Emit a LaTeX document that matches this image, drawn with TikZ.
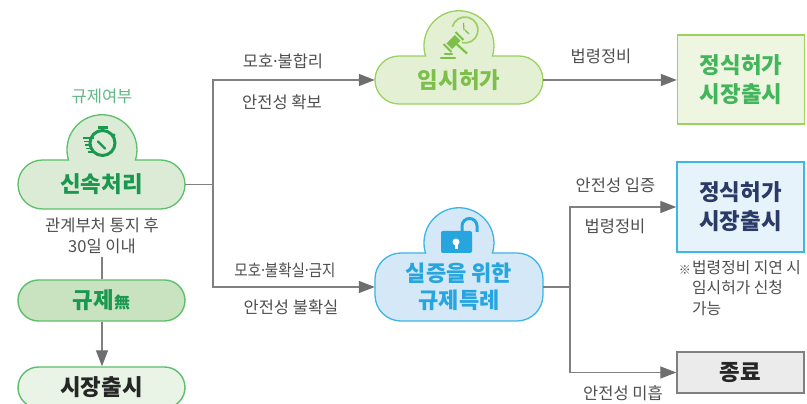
\documentclass[tikz,border=0pt]{standalone}
\usepackage{fontspec}
\setmainfont{Noto Sans CJK KR}
\usetikzlibrary{arrows.meta}
\definecolor{linegray}{HTML}{808080}
\definecolor{headgray}{HTML}{6E6E70}
\definecolor{labelgray}{HTML}{4F4F4F}
\definecolor{gA}{HTML}{5CBF6C}\definecolor{gAfill}{HTML}{DCEBD6}\definecolor{gAtext}{HTML}{1A9850}
\definecolor{gB}{HTML}{9BD160}\definecolor{gBfill}{HTML}{E4F0D4}\definecolor{gBtext}{HTML}{7CC04A}
\definecolor{bC}{HTML}{3DB5E6}\definecolor{bCfill}{HTML}{D4E8F7}\definecolor{bCtext}{HTML}{27A5DF}
\definecolor{gGyu}{HTML}{C9E3C0}\definecolor{gMkt}{HTML}{E9F4E6}
\definecolor{boxgfill}{HTML}{EEF6E2}\definecolor{boxbfill}{HTML}{E6F3FB}\definecolor{boxgtext}{HTML}{43B55B}
\definecolor{navy}{HTML}{2B3A67}\definecolor{boxgray}{HTML}{EBEBEB}
\newcommand{\middot}{\kern-.15em·\kern-.15em}
\tikzset{
  conn/.style={draw=linegray,line width=1.3pt},
  arrowconn/.style={conn,-{Triangle[length=16pt,width=12pt,color=headgray]}},
  lab/.style={text=labelgray,font=\fontsize{16.5}{21}\selectfont,inner sep=0pt,align=center},
  title/.style={font=\fontsize{22.4}{29}\selectfont\bfseries,inner sep=0pt,align=center},
  pillbox/.style={title,minimum width=167pt,minimum height=41pt,rounded corners=20.5pt,line width=1.4pt},
  rectbox/.style={title,minimum width=127pt,line width=1.4pt},
}
\newcommand{\cloudpath}[8]{% x0 x1 Ytop Ybot cx r R style
  \draw[#8] ({#1+#7},#3) -- ({#5-#6*cos(17)},#3)
    arc[start angle=197,end angle=-17,radius=#6pt]
    -- ({#2-#7},#3) arc[start angle=90,end angle=0,radius=#7pt]
    -- (#2,{#4+#7}) arc[start angle=0,end angle=-90,radius=#7pt]
    -- ({#1+#7},#4) arc[start angle=270,end angle=180,radius=#7pt]
    -- (#1,{#3-#7}) arc[start angle=180,end angle=90,radius=#7pt] -- cycle;}
\begin{document}
\begin{tikzpicture}[x=1pt,y=1pt]
\clip (0,0) rectangle (807,404);
\fill[white] (0,0) rectangle (807,404);

% clouds
\cloudpath{18}{185}{244}{195}{102}{35}{24.5}{draw=gA,fill=gAfill,line width=1.3pt}
\cloudpath{375}{543}{348}{300}{459}{35}{24}{draw=gB,fill=gBfill,line width=1.3pt}
\cloudpath{375}{543}{151}{83}{459}{35}{26}{draw=bC,fill=bCfill,line width=1.3pt}

% stopwatch icon
\draw[gAtext,line width=3pt] (102.5,261) circle (12.5);
\draw[gAtext,line width=2pt] (102.5,273) -- (102.5,276);
\draw[gAtext,line width=2.6pt] (98,276.5) -- (107.5,276.5);
\fill[gAtext] (114,269) circle (1.6);
\draw[gAtext,line width=2.2pt,line cap=round] (98,262.5) -- (105,255.5);
\foreach \yy/\xa/\xb in {266/83/94,262.5/84/92,259/85/91,255.5/86/92,252/88/94}
  \draw[gAtext,line width=1.2pt] (\xa,\yy) -- (\xb,\yy);

% gavel icon
\draw[gB,line width=1.7pt] (465,374) ++(165:13pt) arc[start angle=165,end angle=-105,radius=13pt];
\begin{scope}[shift={(453.5,362)},rotate=45]
  \fill[gBtext] (-6,-4) rectangle (6,4);
  \fill[gBtext] (-9.5,-5.5) rectangle (-7.5,5.5);
  \fill[gBtext] (7.5,-5.5) rectangle (9.5,5.5);
\end{scope}
\draw[gBtext,line width=2.2pt] (456.5,360) -- (467,350.5);
\draw[gBtext,line width=2.2pt,line cap=round] (441,346) -- (455,346);
\draw[gBtext,line width=2.2pt,line cap=round] (445,350) -- (452,350);
\draw[gBtext,line width=1.2pt] (463.5,381) -- (464,374);
\draw[gBtext,line width=1.2pt] (465,374) -- (469,370);

% lock icon
\draw[bCtext,line width=3pt] (462,173) -- (462,178) arc[start angle=180,end angle=0,radius=7.5pt] -- (477,172);
\fill[bCtext,rounded corners=2pt] (441,151) rectangle (472,173);
\fill[white] (456,162) circle (3.5);
\fill[white] (454.5,155) rectangle (457.5,162);

% main nodes
\node[title,minimum width=167pt,minimum height=49pt,text=gAtext] (c1) at (101.5,219.5) {신속처리};
\node[title,minimum width=168pt,minimum height=48pt,text=gBtext] (c2) at (459,324) {임시허가};
\node[title,minimum width=168pt,minimum height=68pt,text=bCtext,
  font=\fontsize{22}{27}\selectfont\bfseries] (c3) at (459,117) {실증을 위한\\규제특례};
\node[pillbox,draw=gA,fill=gGyu,text=gAtext] (gyu) at (101.5,103.5) {규제{\fontsize{16}{16}\selectfont 無}};
\node[pillbox,draw=gA,fill=gMkt,text=black!85] (mkt) at (101.5,16.5) {시장출시};
\node[rectbox,minimum height=89pt,draw=gB,fill=boxgfill,text=boxgtext] (b1) at (741,324.5) {정식허가\\시장출시};
\node[rectbox,minimum height=90pt,draw=bC,fill=boxbfill,text=navy] (b2) at (740.5,197) {정식허가\\시장출시};
\node[rectbox,minimum height=41pt,draw=linegray,fill=boxgray,text=black!85] (b3) at (740.5,31.5) {종료};

% labels
\node[lab,text=gAtext!70!white] (lq) at (102,308) {규제여부};
\node[lab] (l0) at (102,168) {관계부처 통지 후\\30일 이내};
\node[lab] (l1) at (283,343) {모호\middot 불합리};
\node[lab] (l2) at (282,302) {안전성 확보};
\node[lab] (l3) at (601,348) {법령정비};
\node[lab] (l4) at (285,134) {\scalebox{.88}[1]{모호\middot 불확실\middot 금지}};
\node[lab] (l5) at (291,97) {안전성 불확실};
\node[lab] (l6) at (615.5,219) {안전성 입증};
\node[lab] (l7) at (615,178) {법령정비};
\node[lab] (l8) at (623,11) {안전성 미흡};
\node[lab,anchor=north west,align=left,font=\fontsize{15.8}{20.5}\selectfont] (n1) at (692,144) {법령정비 지연 시\\임시허가 신청\\가능};
\node[lab,anchor=east,font=\fontsize{12}{14}\selectfont] (n0) at (691,134) {※};

% connectors
\coordinate (j1) at (213,219.5);
\coordinate (j2) at (570,117);
\coordinate (s0) at (102,147);
\draw[conn] (c1.east) -- (j1);
\draw[arrowconn] (j1) |- (c2.west);
\draw[arrowconn] (j1) |- (c3.west);
\draw[arrowconn] (c2.east) -- (c2.east -| b1.west);
\draw[conn] (c3.east) -- (j2);
\draw[arrowconn] (j2) |- (b2.west);
\draw[arrowconn] (j2) |- (b3.west);
\draw[conn] (s0) -- (s0 |- gyu.north);
\draw[arrowconn] (gyu.south -| s0) -- (mkt.north -| s0);
\end{tikzpicture}
\end{document}
